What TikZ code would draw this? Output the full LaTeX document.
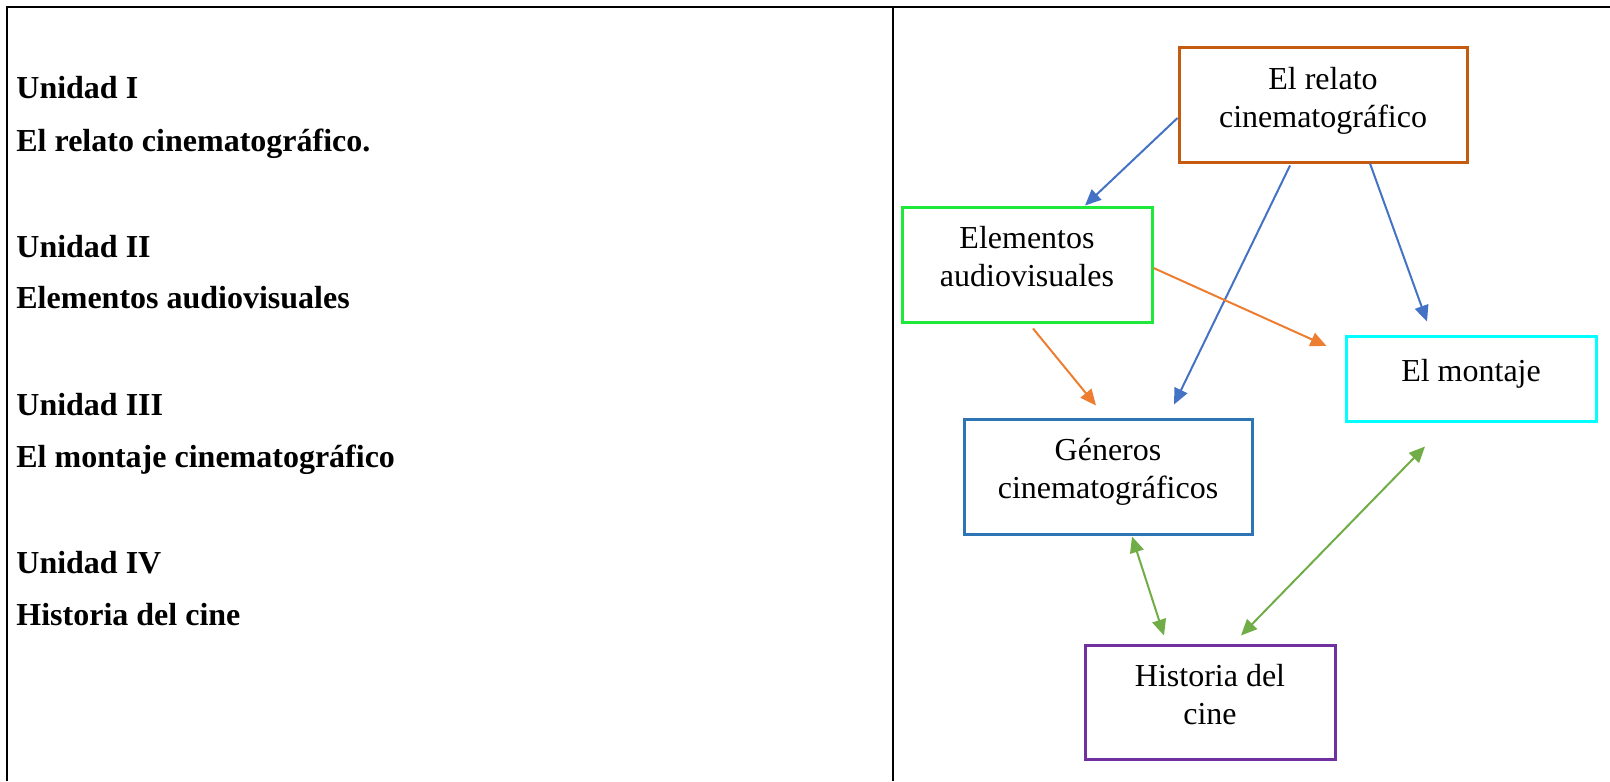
\documentclass[tikz,border=0pt]{standalone}
\usepackage{fontspec}
\setmainfont{Liberation Serif}
\usetikzlibrary{arrows.meta, positioning, calc}

\definecolor{cbrown}{HTML}{C55A11}
\definecolor{cgreen}{HTML}{1EE83A}
\definecolor{ccyan}{HTML}{00FFFF}
\definecolor{cblue}{HTML}{2E75B6}
\definecolor{cpurple}{HTML}{7030A0}
\definecolor{ablue}{HTML}{4472C4}
\definecolor{aorange}{HTML}{ED7D31}
\definecolor{agreen}{HTML}{70AD47}

\begin{document}
\begin{tikzpicture}[
  x=0.5pt, y=-0.5pt,
  >={Triangle[length=8pt, width=7pt]},
  unit/.style = {anchor=base west, inner sep=0, font=\fontsize{16}{19}\selectfont\bfseries},
  cbox/.style = {draw, rectangle, line width=1.5pt, align=center, inner sep=0,
    font=\fontsize{16}{19}\selectfont, execute at end node={\rule[-8pt]{0pt}{8pt}}},
  nbrown/.style = {draw=cbrown},
  ngreen/.style = {draw=cgreen},
  ncyan/.style = {draw=ccyan},
  nblue/.style = {draw=cblue},
  npurple/.style = {draw=cpurple},
  mblue/.style = {draw=ablue, line width=1pt},
  morange/.style = {draw=aorange, line width=1pt},
  mgreen/.style = {draw=agreen, line width=1pt},
  ]
  \useasboundingbox (0,0) rectangle (1610,781);
  \draw[line width=1pt] (7,781) -- (7,7) -- (1610,7);
  \draw[line width=1pt] (893,7) -- (893,781);

  % left column
  \node[unit] (u1) at (16,98) {Unidad I};
  \node[unit] (u1t) at (16,151) {El relato cinematográfico.};
  \node[unit] (u2) at (16,257) {Unidad II};
  \node[unit] (u2t) at (16,308) {Elementos audiovisuales};
  \node[unit] (u3) at (16,415) {Unidad III};
  \node[unit] (u3t) at (16,467) {El montaje cinematográfico};
  \node[unit] (u4) at (16,573) {Unidad IV};
  \node[unit] (u4t) at (16,625) {Historia del cine};

  % right column
  \node[cbox, nbrown, minimum width=144pt, minimum height=57pt] (brel) at (1323,105) {El relato\\cinematográfico};
  \node[cbox, ngreen, minimum width=125pt, minimum height=57.5pt] (bele) at (1027,264.5) {Elementos\\audiovisuales};
  \node[cbox, ncyan, minimum width=125pt, minimum height=42.5pt] (bmon) at (1471,378.5) {El montaje};
  \node[cbox, nblue, minimum width=144pt, minimum height=57.5pt] (bgen) at (1108,476.5) {Géneros\\cinematográficos};
  \node[cbox, npurple, minimum width=125pt, minimum height=57pt] (bhis) at (1210,702) {Historia del\\cine};

  \draw[->, mblue] ($(brel.west)+(0,13)$) -- ($(bele.north)+(58,0)$);
  \draw[->, mblue] ($(brel.south)+(-33,2)$) -- ($(bgen.north)+(66,-13)$);
  \draw[->, mblue] ($(brel.south)+(47,0)$) -- ($(bmon.north)+(-44,-13)$);
  \draw[->, morange] ($(bele.east)+(0,3.5)$) -- ($(bmon.west)+(-18,-32.5)$);
  \draw[->, morange] ($(bele.south)+(6,5)$) -- ($(bgen.north)+(-12,-12)$);
  \draw[<->, mgreen] ($(bgen.south)+(24,1)$) -- ($(bhis.north)+(-46,-8)$);
  \draw[<->, mgreen] ($(bmon.south)+(-46,24)$) -- ($(bhis.north)+(31,-8)$);
\end{tikzpicture}
\end{document}
